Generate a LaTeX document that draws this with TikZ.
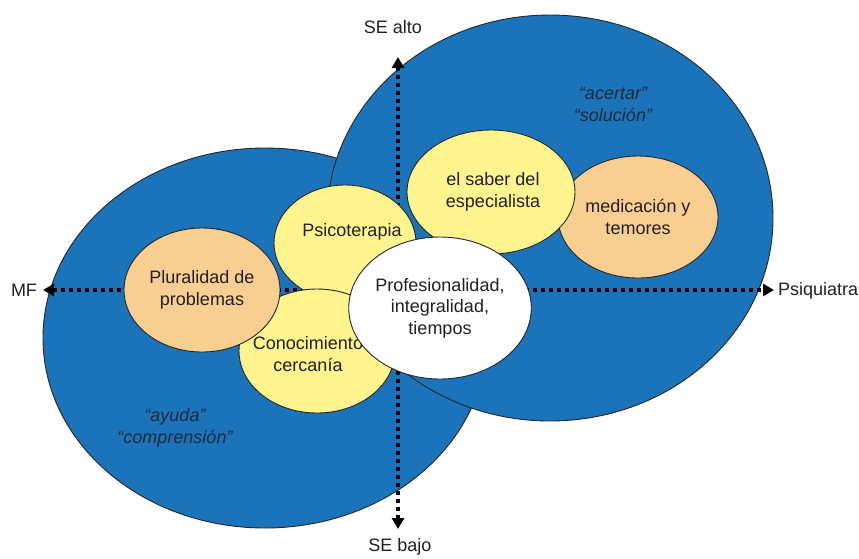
\documentclass[tikz,border=0pt]{standalone}
\usepackage{fontspec}
\setmainfont{Liberation Sans}
\usetikzlibrary{shapes.geometric,arrows.meta}
\definecolor{bigblue}{HTML}{1B73BA}
\definecolor{softyellow}{HTML}{FFF48E}
\definecolor{softorange}{HTML}{F9CE91}
\definecolor{txtgray}{HTML}{231F20}
\definecolor{quotecol}{HTML}{1E2A3C}
\begin{document}
\begin{tikzpicture}[x=1pt,y=-1pt,
  every node/.style={font=\fontsize{18}{21.5}\selectfont, text=txtgray, align=center},
  bigcirc/.style={ellipse, draw=black!85, line width=0.9pt, fill=bigblue, inner sep=0pt},
  yel/.style={ellipse, draw=black!85, line width=0.9pt, fill=softyellow, inner sep=0pt},
  org/.style={ellipse, draw=black!85, line width=0.9pt, fill=softorange, inner sep=0pt},
  wht/.style={ellipse, draw=black!85, line width=0.9pt, fill=white, inner sep=0pt},
  axis/.style={line width=3.6pt, dash pattern=on 4pt off 4pt, draw=black,
    {Triangle[length=11pt,width=12pt]}-{Triangle[length=11pt,width=12pt]}},
  quote/.style={font=\fontsize{18}{22}\selectfont\itshape, text=quotecol},
  lbl/.style={text=txtgray}
]
\useasboundingbox (0,0) rectangle (859,558);

% big circles
\node[bigcirc, minimum width=444pt, minimum height=380pt] (leftc) at (265,338) {};
\node[bigcirc, minimum width=446pt, minimum height=406pt] (rightc) at (550,218) {};

% quotes
\node[quote] (q1) at (613,104) {“acertar”\\“solución”};
\node[quote] (q2) at (175,428) {“ayuda”\\“comprensión”};

% axes
\coordinate (top) at (398,57);
\coordinate (bot) at (398,529);
\coordinate (lft) at (43,290);
\coordinate (rgt) at (774,290);
\draw[axis] (top) -- (bot);
\draw[axis] (lft) -- (rgt);

\node[lbl] (sealto) at (393,27) {SE alto};
\node[lbl] (sebajo) at (400,547) {SE bajo};
\node[lbl] (mf) at (24,290) {MF};
\node[lbl, anchor=west, inner sep=0pt] (psiq) at (778,291) {Psiquiatra};

% inner ellipses
\node[yel, minimum width=142pt, minimum height=116pt] (psico) at (345,243) {};
\node at (352,232) {Psicoterapia};
\node[yel, minimum width=156pt, minimum height=124pt] (cono) at (317,351) {};
\node at (308,354) {Conocimiento\\cercanía};
\node[org, minimum width=156pt, minimum height=124pt] (plur) at (202,290) {Pluralidad de\\problemas};
\node[org, minimum width=160pt, minimum height=122pt] (medi) at (638,217) {medicación y\\temores};
\node[yel, minimum width=168pt, minimum height=124pt] (saber) at (491,192) {};
\node at (493,192) {el saber del\\especialista};
\node[wht, minimum width=168pt, minimum height=142pt] (prof) at (440,308) {Profesionalidad,\\integralidad,\\tiempos};
\end{tikzpicture}
\end{document}
